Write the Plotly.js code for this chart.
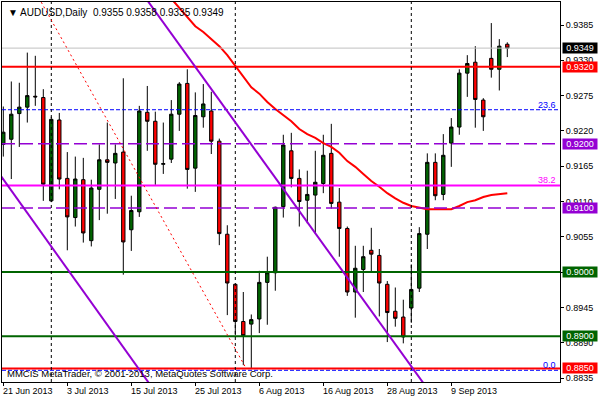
<!DOCTYPE html>
<html><head><meta charset="utf-8">
<script src="https://cdn.plot.ly/plotly-3.0.1.min.js"></script>
<style>body{margin:0;background:#fff}#c{width:600px;height:400px}</style>
</head><body><div id="c"></div>
<script>
// ---- data ----
const symbol = 'AUDUSD';
const timeframe = 'Daily';
const dates = ['2013-06-21','2013-06-24','2013-06-25','2013-06-26','2013-06-27','2013-06-28',
'2013-07-01','2013-07-02','2013-07-03','2013-07-04','2013-07-05',
'2013-07-08','2013-07-09','2013-07-10','2013-07-11','2013-07-12',
'2013-07-15','2013-07-16','2013-07-17','2013-07-18','2013-07-19',
'2013-07-22','2013-07-23','2013-07-24','2013-07-25','2013-07-26',
'2013-07-29','2013-07-30','2013-07-31','2013-08-01','2013-08-02',
'2013-08-05','2013-08-06','2013-08-07','2013-08-08','2013-08-09',
'2013-08-12','2013-08-13','2013-08-14','2013-08-15','2013-08-16',
'2013-08-19','2013-08-20','2013-08-21','2013-08-22','2013-08-23',
'2013-08-26','2013-08-27','2013-08-28','2013-08-29','2013-08-30',
'2013-09-02','2013-09-03','2013-09-04','2013-09-05','2013-09-06',
'2013-09-09','2013-09-10','2013-09-11','2013-09-12','2013-09-13',
'2013-09-16','2013-09-17','2013-09-18'];
const open  = [0.9199,0.9207,0.9247,0.9257,0.9274,0.9272,0.9111,0.9237,0.9146,0.9085,0.9144,0.9049,0.9129,0.9175,0.9170,0.9187,0.9066,0.9094,0.9249,0.9235,0.9168,0.9176,0.9246,0.9294,0.9162,0.9242,0.9251,0.9204,0.9059,0.8981,0.8923,0.8919,0.8927,0.8984,0.8999,0.9102,0.9189,0.9146,0.9112,0.9120,0.9138,0.9185,0.9109,0.9068,0.8969,0.9004,0.9034,0.9026,0.8981,0.8939,0.8930,0.8944,0.8975,0.9059,0.9171,0.9121,0.9201,0.9226,0.9310,0.9327,0.9268,0.9333,0.9316,0.9355];
const high  = [0.9258,0.9297,0.9295,0.9342,0.9337,0.9285,0.9242,0.9248,0.9187,0.9180,0.9178,0.9144,0.9199,0.9233,0.9199,0.9302,0.9119,0.9259,0.9290,0.9250,0.9233,0.9268,0.9296,0.9316,0.9280,0.9293,0.9281,0.9208,0.9073,0.8982,0.8969,0.8934,0.9002,0.9024,0.9102,0.9214,0.9217,0.9160,0.9158,0.9189,0.9214,0.9231,0.9131,0.9071,0.9041,0.9041,0.9069,0.9036,0.8986,0.8976,0.8957,0.9012,0.9070,0.9185,0.9185,0.9215,0.9240,0.9316,0.9338,0.9352,0.9271,0.9388,0.9363,0.9358];
const low   = [0.9180,0.9145,0.9195,0.9233,0.9259,0.9111,0.9109,0.9129,0.9034,0.9071,0.9046,0.9040,0.9081,0.9091,0.9114,0.8996,0.9033,0.9086,0.9189,0.9136,0.9153,0.9170,0.9220,0.9130,0.9125,0.9225,0.9184,0.9042,0.8933,0.8902,0.8855,0.8849,0.8905,0.8918,0.8971,0.9085,0.9132,0.9071,0.9076,0.9060,0.9123,0.9099,0.9024,0.8963,0.8929,0.8969,0.9000,0.8931,0.8891,0.8915,0.8889,0.8921,0.8969,0.9036,0.9112,0.9112,0.9164,0.9214,0.9273,0.9225,0.9220,0.9303,0.9283,0.9335];
const close = [0.9218,0.9246,0.9257,0.9275,0.9273,0.9137,0.9238,0.9145,0.9086,0.9145,0.9061,0.9131,0.9175,0.9171,0.9185,0.9047,0.9096,0.9251,0.9235,0.9168,0.9169,0.9246,0.9293,0.9160,0.9244,0.9262,0.9204,0.9060,0.8983,0.8923,0.8901,0.8926,0.8984,0.8999,0.9101,0.9198,0.9146,0.9110,0.9121,0.9140,0.9182,0.9107,0.9068,0.8969,0.9006,0.9024,0.9028,0.8983,0.8937,0.8928,0.8899,0.8973,0.9060,0.9171,0.9119,0.9182,0.9226,0.9310,0.9325,0.9269,0.9242,0.9316,0.9352,0.9349];
const movingAvg = [null,null,null,null,null,null,null,null,null,null,null,null,null,null,null,null,null,null,null,null,null,
0.9426,0.9412,0.9397,0.9383,0.9374,0.9363,0.9352,0.9338,0.9321,0.9304,0.9288,0.9278,0.9265,0.9254,0.9245,0.9235,0.9223,0.9215,0.9209,0.9201,0.9195,0.9186,0.9173,0.9164,0.9153,0.9142,0.9133,0.9123,0.9115,0.9108,0.9103,0.9101,0.9098,0.9098,0.9098,0.9098,0.9103,0.9109,0.9112,0.9117,0.9120,0.9122,0.9123];

const tickDates = ['2013-06-21','2013-07-03','2013-07-15','2013-07-25','2013-08-06','2013-08-16','2013-08-28','2013-09-09'];
const tickText  = ['21 Jun 2013','3 Jul 2013','15 Jul 2013','25 Jul 2013','6 Aug 2013','16 Aug 2013','28 Aug 2013','9 Sep 2013'];
const priceTicks = [0.9385,0.9330,0.9275,0.9220,0.9165,0.9110,0.9055,0.9000,0.8945,0.8890,0.8835];

const levelPrices = [0.9320,0.9200,0.9100,0.9000,0.8900,0.8850];
const fibPrices = [0.9253,0.9135,0.8847];
const fibNames  = ['23.6','38.2','0.0'];
// trend lines: [barIndex, price] endpoints
const channelUpperX = [17, 53],   channelUpperY = [0.94407, 0.88186];
const channelLowerX = [-0.5, 19], channelLowerY = [0.91532, 0.88132];
const fibBaseX = [2, 30.4],       fibBaseY = [0.94817, 0.8849];

// ---- styles ----
const GREEN='#006400', RED='#ff0000', VIOLET='#9400d3', MAGENTA='#ff00ff', BLUE='#0000ff';
const levelStyle = [
  {c:RED,w:2,d:'solid',box:RED},
  {c:VIOLET,w:1.5,d:'13px,5px',box:VIOLET},
  {c:VIOLET,w:1.5,d:'13px,5px',box:VIOLET},
  {c:GREEN,w:2,d:'solid',box:GREEN},
  {c:GREEN,w:2,d:'solid',box:GREEN},
  {c:RED,w:2,d:'solid',box:RED}];
const fibStyle = [
  {c:BLUE,w:1,d:'4px,2px',t:BLUE},
  {c:MAGENTA,w:2,d:'solid',t:MAGENTA},
  {c:BLUE,w:1,d:'4px,2px',t:BLUE}];
const FONT = 'Liberation Sans, Arial, sans-serif';

const xIdx = dates.map((d,i)=>i);
const last = dates.length-1;

const traces = [
  {type:'candlestick', x:xIdx, open:open, high:high, low:low, close:close,
   increasing:{fillcolor:GREEN, line:{color:'#000', width:1}},
   decreasing:{fillcolor:RED, line:{color:'#000', width:1}},
   whiskerwidth:0, hoverinfo:'skip'},
  {type:'scatter', mode:'lines', x:xIdx, y:movingAvg, line:{color:RED, width:2}, hoverinfo:'skip', connectgaps:false}
];

const shapes = [];
// bid line
shapes.push({type:'line', xref:'paper', x0:0, x1:1, yref:'y', y0:close[last], y1:close[last], line:{color:'#c0c0c0', width:1}});
fibPrices.forEach((p,i)=>shapes.push({type:'line', xref:'paper', x0:0, x1:1, yref:'y', y0:p, y1:p, line:{color:fibStyle[i].c, width:fibStyle[i].w, dash:fibStyle[i].d}}));
levelPrices.forEach((p,i)=>shapes.push({type:'line', xref:'paper', x0:0, x1:1, yref:'y', y0:p, y1:p, line:{color:levelStyle[i].c, width:levelStyle[i].w, dash:levelStyle[i].d}}));
// month separators
dates.forEach((d,i)=>{ if(i>0 && d.slice(5,7)!==dates[i-1].slice(5,7)) shapes.push({type:'line', xref:'x', x0:i, x1:i, yref:'paper', y0:0, y1:1, line:{color:'#000', width:1, dash:'3px,3px'}}); });
shapes.push({type:'line', xref:'x', yref:'y', x0:channelUpperX[0], x1:channelUpperX[1], y0:channelUpperY[0], y1:channelUpperY[1], line:{color:VIOLET, width:2}});
shapes.push({type:'line', xref:'x', yref:'y', x0:channelLowerX[0], x1:channelLowerX[1], y0:channelLowerY[0], y1:channelLowerY[1], line:{color:VIOLET, width:2}});
shapes.push({type:'line', xref:'x', yref:'y', x0:fibBaseX[0], x1:fibBaseX[1], y0:fibBaseY[0], y1:fibBaseY[1], line:{color:RED, width:1, dash:'2px,3px'}});

const ann = [];
const fmt = v=>v.toFixed(4);
ann.push({xref:'paper', yref:'paper', x:0, y:1, xanchor:'left', yanchor:'top', xshift:4, yshift:-3, showarrow:false,
  text:'\u25BC '+symbol+','+timeframe+'  '+[open[last],high[last],low[last],close[last]].map(fmt).join(' '),
  font:{family:FONT, size:10, color:'#000'}});
ann.push({xref:'paper', yref:'paper', x:0, y:0, xanchor:'left', yanchor:'bottom', xshift:3, yshift:1, showarrow:false,
  text:'MMCIS MetaTrader, \u00A9 2001-2013, MetaQuotes Software Corp.', font:{family:FONT, size:9.5, color:'#000'}});
tickDates.forEach((d,i)=>ann.push({xref:'x', yref:'paper', x:dates.indexOf(d), y:0, xanchor:'left', yanchor:'top', xshift:-2, yshift:-2,
  showarrow:false, text:tickText[i], font:{family:FONT, size:9, color:'#000'}}));
fibPrices.forEach((p,i)=>ann.push({xref:'paper', yref:'y', x:0.9964, y:p, xanchor:'right', yanchor:'bottom', yshift:-2, showarrow:false,
  text:fibNames[i], font:{family:FONT, size:9, color:fibStyle[i].t}}));
const boxes = levelPrices.map((p,i)=>({p:p, c:levelStyle[i].box})).concat([{p:close[last], c:'#000'}]);
boxes.forEach(b=>ann.push({xref:'paper', yref:'y', x:1, y:b.p, xanchor:'left', yanchor:'middle', xshift:2, showarrow:false,
  text:fmt(b.p), bgcolor:b.c, width:34, height:10, borderpad:0, font:{family:FONT, size:9, color:'#fff'}}));

const layout = {
  width:600, height:400, margin:{l:2, r:40, t:2, b:18},
  paper_bgcolor:'#fff', plot_bgcolor:'#fff', showlegend:false, hovermode:false, boxgap:0.4,
  font:{family:FONT, size:9, color:'#000'},
  xaxis:{type:'linear', range:[-0.1625, 69.5875], showgrid:false, zeroline:false, rangeslider:{visible:false},
    showline:true, mirror:true, linecolor:'#000', linewidth:1,
    tickvals:tickDates.map(d=>dates.indexOf(d)), ticktext:tickDates.map(()=>''), ticks:'outside', ticklen:3, tickcolor:'#000', showticklabels:false},
  yaxis:{side:'right', range:[0.882879, 0.942083], showgrid:false, zeroline:false,
    showline:true, mirror:true, linecolor:'#000', linewidth:1,
    tickvals:priceTicks, ticktext:priceTicks.map(fmt), ticks:'outside', ticklen:3, tickcolor:'#000',
    tickfont:{family:FONT, size:9, color:'#000'}},
  shapes:shapes, annotations:ann
};
Plotly.newPlot('c', traces, layout, {staticPlot:true, displayModeBar:false});
</script></body></html>
